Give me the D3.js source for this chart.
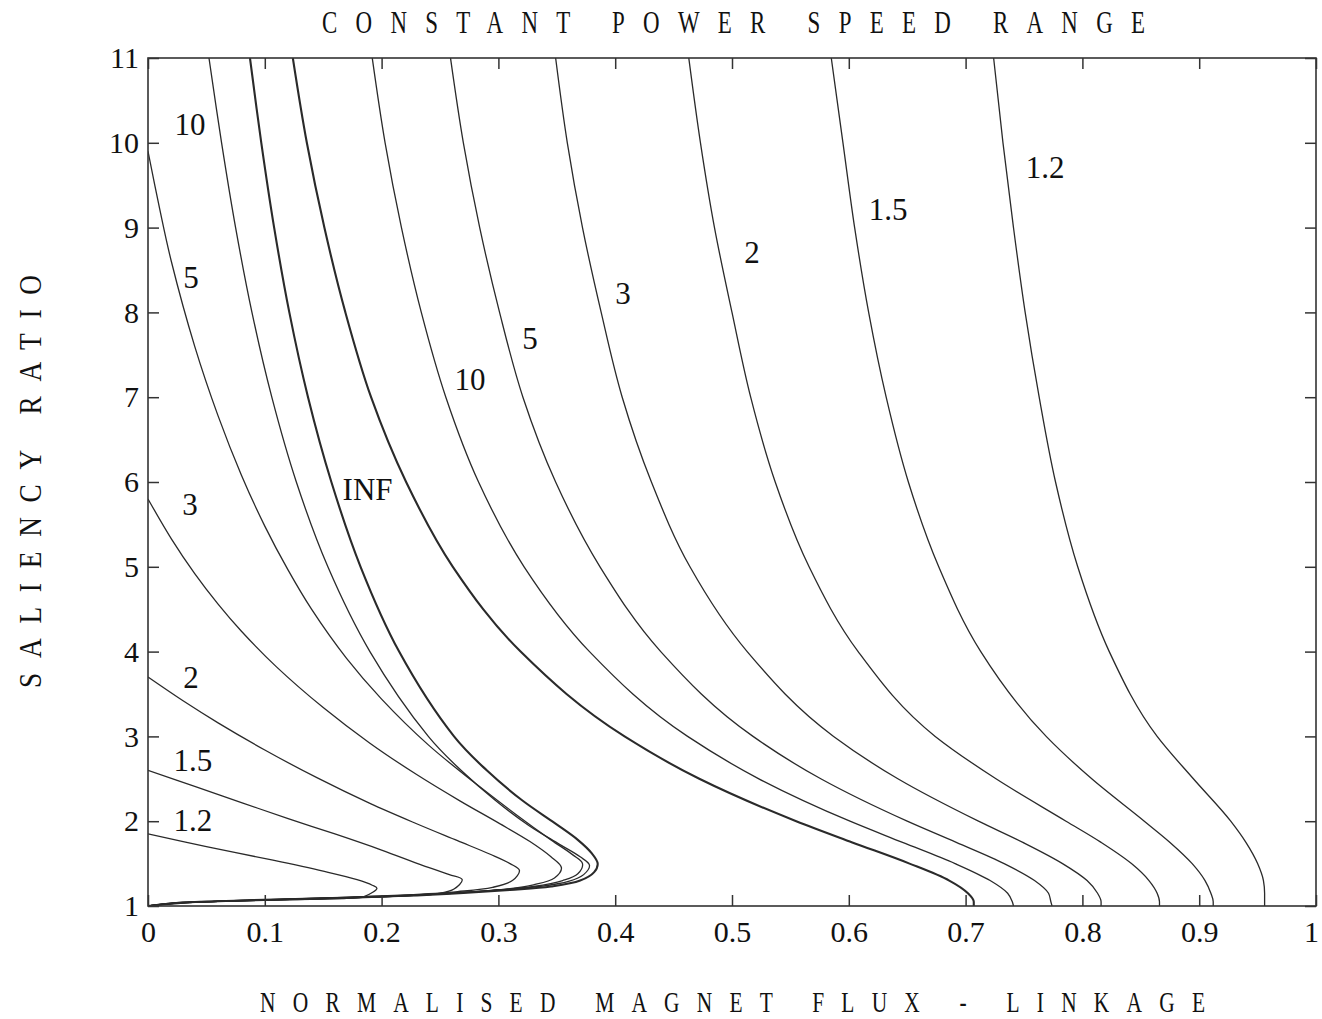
<!DOCTYPE html>
<html><head><meta charset="utf-8">
<script src="https://cdn.jsdelivr.net/npm/d3@7"></script>
<style>body{margin:0;background:#fff}svg{display:block}</style>
</head><body>
<svg id="chart" width="1322" height="1019"></svg>
<script>
// ---- tick values ----
const xTicks = [0,0.1,0.2,0.3,0.4,0.5,0.6,0.7,0.8,0.9,1];
const yTicks = [1,2,3,4,5,6,7,8,9,10,11];

// ---- right family: saliency levels and flux-linkage values ----
const rightY    = [11,10,9,8,7,6,5,4,3,2.5,2,1.75,1.5,1.3,1.15,1.05,1.0];
const rightINF  = [0.124,0.136,0.151,0.169,0.191,0.221,0.261,0.319,0.408,0.472,0.555,0.603,0.652,0.686,0.702,0.707,0.707];
const right10   = [0.192,0.203,0.217,0.234,0.255,0.283,0.322,0.378,0.462,0.523,0.601,0.646,0.691,0.721,0.736,0.740,0.741];
const right5    = [0.259,0.270,0.284,0.301,0.321,0.349,0.387,0.439,0.518,0.576,0.650,0.692,0.733,0.759,0.771,0.773,0.774];
const right3    = [0.349,0.359,0.372,0.388,0.406,0.431,0.464,0.513,0.587,0.642,0.711,0.749,0.783,0.804,0.813,0.816,0.816];
const right2    = [0.463,0.473,0.485,0.500,0.516,0.537,0.566,0.608,0.674,0.726,0.786,0.816,0.842,0.857,0.864,0.866,0.866];
const right15   = [0.585,0.595,0.605,0.617,0.632,0.651,0.677,0.713,0.769,0.808,0.853,0.875,0.894,0.905,0.910,0.912,0.912];
const right12   = [0.724,0.732,0.741,0.751,0.763,0.777,0.796,0.823,0.864,0.895,0.927,0.940,0.950,0.955,0.956,0.956,0.956];

// ---- left family: [flux, saliency] points ----
const leftINF = [[0.0873,11],[0.097,10],[0.108,9],[0.121,8],[0.137,7],[0.157,6],[0.182,5],[0.215,4],[0.262,3],[0.29,2.6],[0.32,2.25],[0.348,1.98],[0.368,1.78],[0.38,1.62],[0.385,1.5],[0.382,1.4],[0.37,1.3],[0.345,1.23],[0.31,1.19],[0.27,1.155],[0.22,1.12],[0.15,1.09],[0.08,1.065],[0.03,1.04],[0,1]];
const left10  = [[0.0522,11],[0.063,10],[0.075,9],[0.089,8],[0.106,7],[0.127,6],[0.154,5],[0.19,4],[0.24,3],[0.268,2.6],[0.297,2.25],[0.326,1.95],[0.352,1.73],[0.37,1.58],[0.378,1.48],[0.373,1.37],[0.36,1.29],[0.335,1.23],[0.3,1.19],[0.26,1.15],[0.21,1.115],[0.14,1.085],[0.07,1.06],[0.025,1.035],[0,1]];
const left5   = [[0,9.9],[0.01,9.22],[0.02,8.6],[0.04,7.6],[0.06,6.78],[0.08,6.08],[0.1,5.48],[0.12,4.96],[0.14,4.5],[0.17,3.92],[0.2,3.44],[0.24,2.9],[0.28,2.45],[0.315,2.08],[0.345,1.78],[0.364,1.6],[0.372,1.5],[0.368,1.38],[0.355,1.3],[0.33,1.23],[0.295,1.185],[0.255,1.15],[0.2,1.11],[0.13,1.08],[0.06,1.055],[0.02,1.03],[0,1]];
const left3   = [[0,5.8],[0.02,5.33],[0.04,4.92],[0.06,4.56],[0.08,4.24],[0.11,3.82],[0.15,3.34],[0.19,2.92],[0.23,2.55],[0.267,2.24],[0.3,1.98],[0.327,1.76],[0.345,1.58],[0.354,1.45],[0.348,1.33],[0.33,1.25],[0.3,1.19],[0.26,1.15],[0.2,1.11],[0.13,1.08],[0.06,1.055],[0.02,1.03],[0,1]];
const left2   = [[0,3.7],[0.03,3.42],[0.06,3.16],[0.1,2.84],[0.145,2.51],[0.19,2.21],[0.23,1.97],[0.265,1.77],[0.293,1.61],[0.31,1.5],[0.318,1.42],[0.312,1.3],[0.295,1.22],[0.265,1.17],[0.22,1.13],[0.15,1.095],[0.08,1.065],[0.03,1.04],[0,1]];
const left15  = [[0,2.6],[0.04,2.41],[0.08,2.22],[0.12,2.03],[0.16,1.85],[0.2,1.66],[0.235,1.48],[0.258,1.37],[0.269,1.31],[0.262,1.2],[0.25,1.15],[0.22,1.12],[0.16,1.095],[0.09,1.07],[0.035,1.045],[0,1]];
const left12  = [[0,1.85],[0.05,1.70],[0.107,1.54],[0.15,1.41],[0.179,1.31],[0.192,1.245],[0.196,1.21],[0.185,1.11],[0.17,1.09],[0.12,1.075],[0.06,1.055],[0.02,1.035],[0,1]];

// ---- curve labels ----
const labelText = ["10","5","3","2","1.5","1.2","INF","10","5","3","2","1.5","1.2"];
const labelX    = [0.036,0.0368,0.036,0.0368,0.0385,0.0385,0.188,0.2757,0.327,0.4067,0.5171,0.6336,0.768];
const labelY    = [10.21,8.406,5.729,3.70,2.72,2.014,5.906,7.203,7.698,8.217,8.712,9.208,9.703];

const titleText = "CONSTANT POWER SPEED RANGE";
const xTitle = "NORMALISED MAGNET FLUX - LINKAGE";
const yTitle = "SALIENCY RATIO";

// ---- layout ----
const W = 1322, H = 1019;
const m = {left:148, right:6, top:58, bottom:113};
const pw = W - m.left - m.right, ph = H - m.top - m.bottom;
const svg = d3.select("#chart");
const x = d3.scaleLinear().domain([0,1]).range([m.left, m.left+pw]);
const y = d3.scaleLinear().domain([1,11]).range([m.top+ph, m.top]);
const serif = "'Liberation Serif','Times New Roman',serif";
const ink = "#2a2a2a";

svg.append("defs").append("clipPath").attr("id","plot")
  .append("rect").attr("x",m.left).attr("y",m.top).attr("width",pw).attr("height",ph);

const lineLeft = d3.line().x(d=>x(d[0])).y(d=>y(d[1])).curve(d3.curveCatmullRom.alpha(0.5));
const lineRight = d3.line().x(d=>x(d[0])).y(d=>y(d[1])).curve(d3.curveMonotoneY);
const g = svg.append("g").attr("clip-path","url(#plot)");

const rightSeries = [rightINF,right10,right5,right3,right2,right15,right12];
rightSeries.forEach((arr,i)=>{
  const pts = arr.map((v,j)=>[v,rightY[j]]).reverse();
  g.append("path").attr("d",lineRight(pts)).attr("fill","none")
   .attr("stroke",ink).attr("stroke-width", i===0?2.1:1.3);
});
const leftSeries = [leftINF,left10,left5,left3,left2,left15,left12];
leftSeries.forEach((pts,i)=>{
  g.append("path").attr("d",lineLeft(pts)).attr("fill","none")
   .attr("stroke",ink).attr("stroke-width", i===0?2.1:1.3);
});

// frame
svg.append("rect").attr("x",m.left).attr("y",m.top).attr("width",pw).attr("height",ph)
  .attr("fill","none").attr("stroke","#333").attr("stroke-width",1.6);

// axes
const fmt = d=> d===0?"0":(d===1?"1":d3.format(".1f")(d));
const ax = svg.append("g").attr("transform",`translate(0,${m.top+ph})`)
  .call(d3.axisBottom(x).tickValues(xTicks).tickFormat(fmt).tickSize(-11).tickPadding(15));
const axT = svg.append("g").attr("transform",`translate(0,${m.top})`)
  .call(d3.axisTop(x).tickValues(xTicks).tickFormat("").tickSize(-11));
const ay = svg.append("g").attr("transform",`translate(${m.left},0)`)
  .call(d3.axisLeft(y).tickValues(yTicks).tickFormat(d3.format("d")).tickSize(-11).tickPadding(9));
const ayR = svg.append("g").attr("transform",`translate(${m.left+pw},0)`)
  .call(d3.axisRight(y).tickValues(yTicks).tickFormat("").tickSize(-11));
[ax,axT,ay,ayR].forEach(a=>{
  a.select(".domain").remove();
  a.selectAll(".tick line").attr("stroke","#333").attr("stroke-width",1.5);
  a.selectAll("text").attr("font-family",serif).attr("font-size",30).attr("fill","#111");
});
ax.selectAll(".tick text").filter(d=>d===1).attr("dx",-5);

// curve labels
svg.append("g").selectAll("text").data(labelText).join("text")
  .attr("x",(d,i)=>x(labelX[i])).attr("y",(d,i)=>y(labelY[i]))
  .attr("text-anchor","middle").attr("dominant-baseline","central")
  .attr("font-family",serif).attr("font-size",31).attr("fill","#111")
  .text(d=>d);

// spaced, condensed titles (alphabetic baseline)
function spaced(txt, cx, cy, width, sx, rot, fs){
  const gg = svg.append("g").attr("transform",`translate(${cx},${cy}) rotate(${rot}) scale(${sx},1)`);
  gg.append("text").attr("x",0).attr("y",0).attr("text-anchor","middle")
    .attr("font-family",serif).attr("font-size",fs).attr("fill","#111")
    .attr("textLength",width/sx).attr("lengthAdjust","spacing").text(txt);
}
spaced(titleText, 733.5, 33, 823, 0.74, 0, 31);
spaced(xTitle, 732.5, 1012, 945, 0.74, 0, 29);
spaced(yTitle, 41, 481.5, 413, 0.88, -90, 31);
</script>
</body></html>
